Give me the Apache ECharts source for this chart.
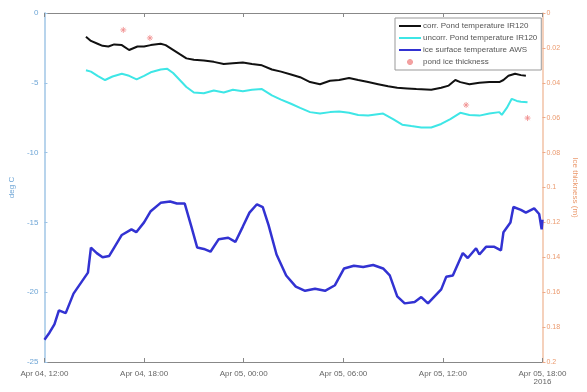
<!DOCTYPE html>
<html><head><meta charset="utf-8">
<script src="https://cdn.jsdelivr.net/npm/echarts@6/dist/echarts.min.js"></script>
<style>html,body{margin:0;padding:0;background:#fff}#c{width:587px;height:392px}</style>
</head><body><div id="c"></div>
<script>
// hours after Apr 04, 12:00 (2016)
const xTickLabels = ['Apr 04, 12:00','Apr 04, 18:00','Apr 05, 00:00','Apr 05, 06:00','Apr 05, 12:00','Apr 05, 18:00'];

const corrT = [2.5,2.8,3.2,3.5,3.85,4.2,4.66,5.1,5.6,6.0,6.4,7.0,7.3,7.7,8.15,8.55,9.0,9.6,10.2,10.8,11.35,11.95,12.5,13.1,13.7,14.25,14.85,15.4,16.0,16.6,17.2,17.75,18.35,18.9,19.5,20.1,20.7,21.25,21.85,22.4,23.3,23.9,24.35,24.75,25.05,25.6,26.2,26.8,27.4,27.65,27.95,28.35,28.7,29.0];
const corrV = [-1.7,-2.0,-2.2,-2.35,-2.4,-2.25,-2.3,-2.65,-2.4,-2.4,-2.3,-2.2,-2.3,-2.6,-2.95,-3.25,-3.35,-3.4,-3.5,-3.65,-3.6,-3.55,-3.65,-3.75,-4.05,-4.2,-4.4,-4.6,-4.95,-5.1,-4.85,-4.8,-4.65,-4.8,-4.95,-5.1,-5.25,-5.35,-5.4,-5.45,-5.5,-5.35,-5.2,-4.8,-4.95,-5.1,-5.0,-4.95,-4.95,-4.8,-4.5,-4.35,-4.45,-4.5];

const uncorrT = [2.5,2.8,3.2,3.65,4.1,4.66,5.1,5.55,6.0,6.4,7.0,7.4,7.75,8.15,8.55,9.0,9.6,10.2,10.8,11.35,11.95,12.5,13.1,13.7,14.25,14.85,15.4,16.0,16.6,17.2,17.75,18.35,18.9,19.5,20.4,21.0,21.55,22.1,22.7,23.3,23.9,24.45,25.05,25.6,26.2,26.8,27.4,27.55,27.85,28.15,28.45,28.7,29.1];
const uncorrV = [-4.1,-4.2,-4.5,-4.8,-4.55,-4.35,-4.5,-4.75,-4.5,-4.25,-4.05,-4.0,-4.3,-4.8,-5.3,-5.7,-5.75,-5.55,-5.7,-5.5,-5.6,-5.5,-5.45,-5.9,-6.2,-6.5,-6.8,-7.1,-7.2,-7.1,-7.05,-7.15,-7.3,-7.35,-7.2,-7.6,-8.0,-8.1,-8.2,-8.2,-7.95,-7.6,-7.15,-7.3,-7.35,-7.2,-7.1,-7.3,-6.8,-6.15,-6.3,-6.35,-6.4];

const awsT = [0,0.3,0.6,0.87,1.28,1.75,2.33,2.62,2.8,3.15,3.5,3.9,4.2,4.66,5.24,5.53,6.0,6.4,7.0,7.57,7.98,8.45,8.85,9.2,9.6,10.0,10.5,11.07,11.5,11.95,12.35,12.8,13.15,13.5,13.98,14.56,15.14,15.7,16.3,16.9,17.5,18.05,18.64,19.2,19.8,20.4,20.8,21.25,21.7,22.3,22.7,23.1,23.9,24.2,24.6,25.2,25.5,26.0,26.2,26.6,27.1,27.5,27.65,28.07,28.25,28.7,29.0,29.5,29.8,29.95,30.0];
const awsV = [-23.4,-22.9,-22.3,-21.3,-21.5,-20.1,-19.1,-18.6,-16.8,-17.2,-17.5,-17.4,-16.8,-15.9,-15.5,-15.7,-15.0,-14.2,-13.6,-13.5,-13.65,-13.65,-15.3,-16.8,-16.9,-17.1,-16.2,-16.1,-16.4,-15.3,-14.3,-13.7,-13.9,-15.2,-17.3,-18.8,-19.6,-19.9,-19.75,-19.9,-19.5,-18.3,-18.1,-18.2,-18.05,-18.3,-18.8,-20.3,-20.8,-20.7,-20.35,-20.8,-19.8,-18.9,-18.8,-17.2,-17.55,-16.85,-17.3,-16.75,-16.75,-17.0,-15.7,-15.0,-13.9,-14.1,-14.3,-14.0,-14.4,-15.5,-14.8];

const iceT = [4.75,6.35,25.4,29.1];
const iceV = [0.0097,0.0143,0.0527,0.0602];

const zip = (a,b)=>a.map((t,i)=>[t,b[i]]);
const star = 'path://M0,-10L0,10M-10,0L10,0M-7,-7L7,7M-7,7L7,-7';

const chart = echarts.init(document.getElementById('c'));
const baseFont = 'Liberation Sans, DejaVu Sans, sans-serif';
const noSym = {opacity:0};
chart.setOption({
  animation:false,
  textStyle:{fontFamily:baseFont},
  grid:{left:40,right:32,top:13,bottom:30,containLabel:false},
  legend:{
    orient:'vertical', left:395, top:18,
    backgroundColor:'#fff', borderColor:'#999', borderWidth:1, padding:[4,4,4,3],
    itemWidth:22, itemHeight:6, itemGap:4,
    textStyle:{fontSize:8, color:'#555', padding:[0,0,0,-3]},
    data:[
      {name:'corr. Pond temperature IR120', itemStyle:noSym},
      {name:'uncorr. Pond temperature IR120', itemStyle:noSym},
      {name:'ice surface temperature AWS', itemStyle:noSym},
      {name:'pond ice thickness', icon: star}
    ]
  },
  xAxis:[{
    type:'value', min:0, max:30, interval:6, position:'bottom',
    axisLine:{onZero:false,lineStyle:{color:'#888',width:1}},
    axisTick:{inside:true,length:4,lineStyle:{color:'#888'}},
    splitLine:{show:false},
    axisLabel:{fontSize:8,color:'#666',margin:8,
      formatter:(v)=>{const i=Math.round(v/6);return xTickLabels[i]+(i===5?'\n2016':'');}}
  },{
    type:'value', min:0, max:30, interval:6, position:'top',
    axisLine:{onZero:false,lineStyle:{color:'#888',width:1}},
    axisTick:{inside:true,length:4,lineStyle:{color:'#888'}},
    axisLabel:{show:false}, splitLine:{show:false}
  }],
  yAxis:[{
    type:'value', min:-25, max:0, interval:5, position:'left',
    name:'deg C', nameLocation:'middle', nameGap:24, nameRotate:90,
    nameTextStyle:{color:'#6fa6d6',fontSize:8},
    axisLine:{show:true,onZero:false,lineStyle:{color:'#b8d4ec',width:2}},
    axisTick:{show:true,inside:true,length:3,lineStyle:{color:'#9cc3e6'}},
    axisLabel:{fontSize:8,color:'#6fa6d6',margin:6},
    splitLine:{show:false}
  },{
    type:'value', min:0, max:0.2, interval:0.02, inverse:true, position:'right',
    name:'Ice thickness (m)', nameLocation:'middle', nameGap:24, nameRotate:-90,
    nameTextStyle:{color:'#eb9a6e',fontSize:8},
    axisLine:{show:true,onZero:false,lineStyle:{color:'#f2c2a6',width:1.5}},
    axisTick:{show:true,inside:false,length:3,lineStyle:{color:'#eeaa88'}},
    axisLabel:{fontSize:7,color:'#eb9a6e',margin:4,formatter:(v)=>String(+v.toFixed(2))},
    splitLine:{show:false}
  }],
  series:[
    {name:'corr. Pond temperature IR120',type:'line',data:zip(corrT,corrV),symbol:'none',
      lineStyle:{color:'#111',width:2},itemStyle:{color:'#111'}},
    {name:'uncorr. Pond temperature IR120',type:'line',data:zip(uncorrT,uncorrV),symbol:'none',
      lineStyle:{color:'#3ee6e6',width:2},itemStyle:{color:'#3ee6e6'}},
    {name:'ice surface temperature AWS',type:'line',data:zip(awsT,awsV),symbol:'none',
      lineStyle:{color:'#3232d2',width:2.5},itemStyle:{color:'#3232d2'}},
    {name:'pond ice thickness',type:'scatter',yAxisIndex:1,data:zip(iceT,iceV),
      symbol:star,symbolSize:6,itemStyle:{color:'#f0a0a0',borderColor:'#f08a8a',borderWidth:1}}
  ]
});
</script></body></html>
